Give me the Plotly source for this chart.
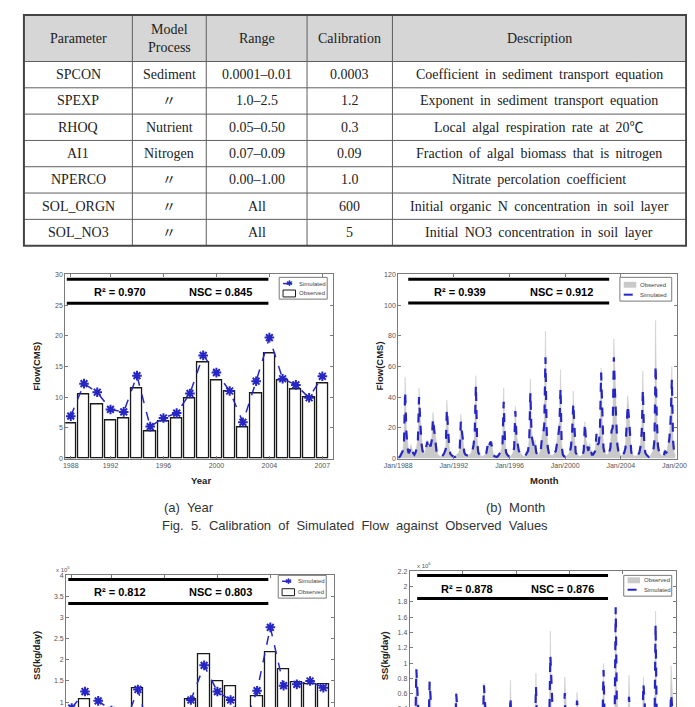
import pandas as pd
import plotly.graph_objects as go

W, H = 695, 707

# ---------------- table data ----------------
header = ["Parameter", "Model<br>Process", "Range", "Calibration", "Description"]
params = ["SPCON", "SPEXP", "RHOQ", "AI1", "NPERCO", "SOL_ORGN", "SOL_NO3"]
processes = ["Sediment", "〃", "Nutrient", "Nitrogen", "〃", "〃", "〃"]
ranges = ["0.0001–0.01", "1.0–2.5", "0.05–0.50", "0.07–0.09", "0.00–1.00", "All", "All"]
calibration = ["0.0003", "1.2", "0.3", "0.09", "1.0", "600", "5"]
descriptions = [
    "Coefficient in sediment transport equation",
    "Exponent in sediment transport equation",
    "Local algal respiration rate at 20℃",
    "Fraction of algal biomass that is nitrogen",
    "Nitrate percolation coefficient",
    "Initial organic N concentration in soil layer",
    "Initial NO3 concentration in soil layer",
]

# ---------------- annual data ----------------
years = list(range(1988, 2008))
flow_year_obs = [5.8, 10.5, 8.8, 6.2, 6.6, 11.5, 4.5, 6.1, 6.5, 9.8,
                 15.7, 12.7, 11.0, 5.0, 10.6, 17.2, 12.7, 11.3, 9.9, 12.2]
flow_year_sim = [6.9, 12.2, 10.8, 8.0, 7.6, 13.5, 5.2, 6.6, 7.4, 10.6,
                 16.8, 14.0, 11.0, 5.9, 12.6, 19.7, 13.0, 12.0, 9.9, 13.4]
# suspended sediment, x 10^5 kg/day
ss_year_obs = [0.55, 1.07, 0.60, 0.50, 0.45, 1.33, 0.30, 0.55, 0.60, 1.07,
               2.13, 1.50, 1.38, 0.45, 1.14, 2.17, 1.78, 1.47, 1.41, 1.42]
ss_year_sim = [0.86, 1.25, 1.03, 0.80, 0.47, 1.30, 0.15, 0.35, 0.57, 1.05,
               1.87, 1.25, 1.05, 0.42, 1.27, 2.77, 1.39, 1.42, 1.50, 1.34]

# ---------------- monthly data (Jan 1988 - Dec 2007) ----------------
months = pd.date_range("1988-01-01", periods=240, freq="MS").strftime("%Y-%m-%d").tolist()
flow_month_obs = [
    1.5, 1.2, 2.5, 4, 6, 12, 53, 20, 8, 4, 6, 9,
    6, 4, 3, 5, 8, 14, 46, 28, 12, 6, 4, 3,
    8, 12, 7, 10, 9, 14, 30, 22, 16, 6, 3, 2,
    1.5, 1.2, 2, 3, 5, 7, 38, 18, 8, 4, 2.5, 2,
    1.5, 1.2, 2, 3, 4, 6, 29, 18, 10, 5, 3, 2.5,
    2, 2, 3, 4, 6, 10, 18, 54, 14, 5, 3, 2,
    1.5, 1.2, 2, 3, 4, 9, 6, 11, 10, 8, 3, 2,
    1.5, 1.5, 2, 3, 4, 6, 12, 46, 15, 5, 3, 2,
    1.5, 1.5, 2.5, 4, 8, 34, 16, 10, 6, 4, 3, 2,
    1.5, 1.5, 2.5, 4, 6, 13, 52, 18, 12, 8, 12, 5,
    3, 2.5, 4, 6, 15, 18, 25, 83, 22, 8, 4, 3,
    2, 2, 3, 4, 6, 12, 16, 25, 58, 10, 3, 2,
    1.5, 1.5, 2, 3, 5, 10, 20, 44, 14, 5, 3, 2,
    1.5, 1.5, 2, 2.5, 6, 24, 12, 8, 6, 10, 7, 3,
    3, 4, 6, 17, 10, 12, 20, 59, 25, 8, 4, 3,
    2.5, 3, 5, 8, 20, 22, 78, 50, 30, 10, 5, 3,
    2, 2, 3, 5, 8, 30, 41, 30, 12, 5, 3, 2,
    1.5, 1.5, 2, 3, 5, 10, 20, 57, 15, 5, 3, 2,
    1.5, 1.5, 2.5, 4, 6, 14, 90, 30, 10, 5, 3, 2,
    2, 2, 6, 4, 6, 10, 16, 30, 60, 14, 4, 2,
]
flow_month_sim = [
    1.0, 0.8, 2.0, 3.5, 5, 10, 44, 18, 7, 3.5, 5, 8,
    5, 3.5, 2.5, 4, 7, 12, 40, 25, 10, 5, 3.5, 3,
    7, 11, 6, 9, 8, 12, 26, 19, 14, 5, 2.5, 1.5,
    1.2, 1.0, 1.5, 2.5, 4, 6, 32, 15, 7, 3, 2, 1.5,
    1, 1, 1.5, 2.5, 3.5, 5, 24, 16, 9, 4, 2.5, 2,
    1.5, 1.5, 2.5, 3.5, 5, 9, 16, 48, 12, 4, 2.5, 1.5,
    1, 1, 1.5, 2.5, 3.5, 8, 5, 10, 11, 7, 2.5, 1.5,
    1, 1, 1.5, 2.5, 3.5, 5, 10, 37, 13, 4, 2.5, 1.5,
    1, 1, 2, 3.5, 7, 31, 14, 9, 5, 3.5, 2.5, 1.5,
    1, 1, 2, 3.5, 5, 11, 43, 15, 10, 7, 10, 4,
    2.5, 2, 3.5, 5, 14, 16, 22, 66, 18, 7, 3.5, 2.5,
    1.5, 1.5, 2.5, 3.5, 5, 10, 14, 21, 46, 8, 2.5, 1.5,
    1, 1, 1.5, 2.5, 4, 8, 17, 36, 12, 4, 2.5, 1.5,
    1, 1, 1.5, 2, 5, 23, 11, 7, 5, 9, 6, 2.5,
    2.5, 3.5, 5, 16, 9, 10, 18, 56, 22, 7, 3.5, 2.5,
    2, 2.5, 4, 7, 18, 20, 66, 42, 26, 9, 4, 2.5,
    1.5, 1.5, 2.5, 4, 7, 26, 35, 26, 10, 4, 2.5, 1.5,
    1, 1, 1.5, 2.5, 4, 8, 17, 45, 13, 4, 2.5, 1.5,
    1, 1, 2, 3.5, 5, 12, 61, 26, 8, 4, 2.5, 1.5,
    1.5, 1.5, 5, 3.5, 5, 8, 14, 26, 52, 12, 3.5, 1.5,
]
# suspended sediment, x 10^6 kg/day
ss_month_obs = [
    .01, .01, .02, .03, .05, .12, .90, .25, .08, .03, .05, .08,
    .05, .03, .02, .04, .07, .15, .74, .30, .10, .05, .03, .02,
    .07, .12, .06, .10, .08, .15, .30, .22, .16, .05, .02, .02,
    .01, .01, .02, .03, .05, .08, .62, .20, .07, .03, .02, .01,
    .01, .01, .02, .03, .04, .06, .28, .18, .08, .03, .02, .01,
    .01, .01, .02, .03, .05, .10, .20, .74, .10, .03, .02, .01,
    .01, .01, .02, .02, .03, .06, .04, .08, .07, .05, .02, .01,
    .01, .01, .02, .03, .04, .06, .12, .78, .12, .03, .02, .01,
    .01, .01, .02, .03, .07, .40, .15, .08, .05, .03, .02, .01,
    .01, .01, .02, .03, .05, .13, .87, .20, .10, .06, .10, .04,
    .02, .02, .03, .05, .15, .18, .25, 1.42, .22, .07, .03, .02,
    .01, .01, .02, .03, .05, .12, .15, .25, .82, .08, .02, .01,
    .01, .01, .02, .03, .04, .10, .20, .62, .14, .04, .02, .01,
    .01, .01, .02, .02, .06, .24, .11, .07, .05, .09, .06, .02,
    .02, .03, .05, .16, .09, .11, .20, 1.00, .28, .07, .03, .02,
    .02, .02, .04, .07, .20, .22, 1.70, .55, .30, .09, .04, .02,
    .01, .01, .02, .04, .07, .30, .84, .30, .10, .04, .02, .01,
    .01, .01, .02, .03, .04, .10, .20, .82, .14, .04, .02, .01,
    .01, .01, .02, .03, .05, .14, 1.68, .32, .08, .04, .02, .01,
    .01, .01, .05, .03, .05, .10, .16, .28, .97, .10, .02, .01,
]
ss_month_sim = [
    .01, .01, .02, .03, .04, .10, .92, .22, .07, .03, .04, .07,
    .04, .03, .02, .03, .06, .13, .76, .27, .09, .04, .03, .02,
    .06, .10, .05, .09, .07, .13, .26, .19, .14, .04, .02, .02,
    .01, .01, .02, .03, .04, .07, .60, .18, .06, .03, .02, .01,
    .01, .01, .02, .02, .03, .05, .24, .16, .07, .03, .02, .01,
    .01, .01, .02, .03, .04, .09, .18, .71, .09, .03, .02, .01,
    .01, .01, .01, .02, .03, .05, .03, .07, .08, .04, .02, .01,
    .01, .01, .02, .02, .03, .05, .10, .56, .10, .03, .02, .01,
    .01, .01, .02, .03, .06, .40, .13, .07, .04, .03, .02, .01,
    .01, .01, .02, .03, .04, .11, .70, .17, .09, .05, .09, .03,
    .02, .02, .03, .04, .13, .16, .22, 1.10, .18, .06, .03, .02,
    .01, .01, .02, .03, .04, .10, .13, .22, .61, .07, .02, .01,
    .01, .01, .02, .02, .03, .08, .17, .51, .12, .03, .02, .01,
    .01, .01, .01, .02, .05, .21, .10, .06, .04, .08, .05, .02,
    .02, .03, .04, .14, .08, .09, .18, .91, .24, .06, .03, .02,
    .02, .02, .03, .06, .18, .20, 1.73, .48, .26, .08, .03, .02,
    .01, .01, .02, .03, .06, .26, .56, .26, .09, .03, .02, .01,
    .01, .01, .02, .02, .03, .08, .17, .73, .12, .03, .02, .01,
    .01, .01, .02, .03, .04, .12, 1.51, .28, .07, .03, .02, .01,
    .01, .01, .04, .03, .04, .08, .14, .24, .60, .08, .02, .01,
]

year_ticks = [1988, 1991, 1995, 1999, 2003, 2007]
year_labels = ["1988", "1992", "1996", "2000", "2004", "2007"]
month_ticks = ["1988-01-01", "1992-01-01", "1996-01-01", "2000-01-01", "2004-01-01", "2007-12-31"]
month_labels = ["Jan/1988", "Jan/1992", "Jan/1996", "Jan/2000", "Jan/2004", "Jan/2007"]

BLUE = "#2626c4"
GREY = "#c9c9c9"
SANS = "Liberation Sans"
SERIF = "Liberation Serif, Noto Sans CJK KR"


def fx(px):
    return px / W


def fy(px):
    return 1 - px / H


fig = go.Figure()

# (a) annual flow
fig.add_trace(go.Bar(x=years, y=flow_year_obs, name="Observed", width=0.85,
                     marker=dict(color="white", line=dict(color="#1a1a1a", width=1.3)),
                     xaxis="x", yaxis="y"))
fig.add_trace(go.Scatter(x=years, y=flow_year_sim, name="Simulated", mode="lines+markers",
                         line=dict(color=BLUE, width=1.5, dash="dash"),
                         marker=dict(symbol="asterisk-open", size=8, line=dict(color=BLUE, width=2)),
                         xaxis="x", yaxis="y"))

# (b) monthly flow
fig.add_trace(go.Scatter(x=months, y=flow_month_obs, name="Observed", mode="lines", fill="tozeroy",
                         fillcolor=GREY, line=dict(color=GREY, width=0.5), xaxis="x2", yaxis="y2"))
fig.add_trace(go.Scatter(x=months, y=flow_month_sim, name="Simulated", mode="lines",
                         line=dict(color=BLUE, width=2.2, dash="dash"), xaxis="x2", yaxis="y2"))

# (c) annual sediment
fig.add_trace(go.Bar(x=years, y=ss_year_obs, name="Observed", width=0.85,
                     marker=dict(color="white", line=dict(color="#1a1a1a", width=1.3)),
                     xaxis="x3", yaxis="y3"))
fig.add_trace(go.Scatter(x=years, y=ss_year_sim, name="Simulated", mode="lines+markers",
                         line=dict(color=BLUE, width=1.5, dash="dash"),
                         marker=dict(symbol="asterisk-open", size=8, line=dict(color=BLUE, width=2)),
                         xaxis="x3", yaxis="y3"))

# (d) monthly sediment
fig.add_trace(go.Scatter(x=months, y=ss_month_obs, name="Observed", mode="lines", fill="tozeroy",
                         fillcolor=GREY, line=dict(color=GREY, width=0.5), xaxis="x4", yaxis="y4"))
fig.add_trace(go.Scatter(x=months, y=ss_month_sim, name="Simulated", mode="lines",
                         line=dict(color=BLUE, width=2.2, dash="dash"), xaxis="x4", yaxis="y4"))

axis_style = dict(showline=True, linecolor="#7a7a7a", linewidth=1, mirror="ticks", ticks="inside",
                  ticklen=3, tickcolor="#7a7a7a", showgrid=False, zeroline=False,
                  ticklabeloverflow="allow",
                  tickfont=dict(family=SANS, size=7, color="#555"))

fig.update_layout(
    width=W, height=H, margin=dict(l=0, r=0, t=0, b=0), showlegend=False,
    paper_bgcolor="white", plot_bgcolor="white", bargap=0,
    xaxis=dict(axis_style, domain=[fx(45), fx(324)], anchor="y", range=[1987.58, 2007.8],
               tickvals=year_ticks, ticktext=year_labels),
    yaxis=dict(axis_style, domain=[fy(451), fy(265)], anchor="x", range=[0, 30], dtick=5),
    xaxis2=dict(axis_style, domain=[fx(392), fx(682)], anchor="y2", type="date",
                range=["1988-01-01", "2008-01-01"], tickvals=month_ticks, ticktext=month_labels),
    yaxis2=dict(axis_style, domain=[fy(451), fy(265)], anchor="x2", range=[0, 120], dtick=20),
    # lower panels run past the bottom of the page: their x labels are out of view
    xaxis3=dict(axis_style, domain=[fx(46), fx(325)], anchor="y3", range=[1987.58, 2007.8],
                tickvals=year_ticks, showticklabels=False),
    yaxis3=dict(axis_style, domain=[0, fy(569)], anchor="x3", range=[0.766, 4], dtick=0.5),
    xaxis4=dict(axis_style, domain=[fx(404), fx(681)], anchor="y4", type="date",
                range=["1988-01-01", "2008-01-01"], tickvals=month_ticks, showticklabels=False),
    yaxis4=dict(axis_style, domain=[0, fy(565)], anchor="x4", range=[0.361, 2.2], dtick=0.2),
)


def text(x, y, s, font, **kw):
    fig.add_annotation(xref="paper", yref="paper", x=fx(x), y=fy(y), text=s, showarrow=False,
                       xanchor=kw.pop("xanchor", "center"), yanchor="middle", font=font, **kw)


# ---------------- table (grid + centred cell text) ----------------
col_edges = [2, 115, 192, 297, 386, 692]
row_edges = [3, 50] + [50 + 26.57 * (i + 1) for i in range(7)]
fig.add_shape(type="rect", xref="paper", yref="paper", x0=fx(2), x1=fx(692), y0=fy(50), y1=fy(3),
              fillcolor="#d6d6d6", line=dict(width=0), layer="below")
for r in row_edges[1:-1]:
    fig.add_shape(type="line", xref="paper", yref="paper", x0=fx(2), x1=fx(692), y0=fy(r), y1=fy(r),
                  line=dict(color="#5e5e5e", width=1))
for c in col_edges[1:-1]:
    fig.add_shape(type="line", xref="paper", yref="paper", x0=fx(c), x1=fx(c), y0=fy(236), y1=fy(3),
                  line=dict(color="#5e5e5e", width=1))
fig.add_shape(type="rect", xref="paper", yref="paper", x0=fx(2), x1=fx(692), y0=fy(236), y1=fy(3),
              line=dict(color="#444", width=2))

cell_font = dict(family=SERIF, size=14, color="#222")
columns = [params, processes, ranges, calibration,
           [d.replace(" ", " \u2009") for d in descriptions]]
for j, head in enumerate(header):
    xc = (col_edges[j] + col_edges[j + 1]) / 2
    text(xc, (row_edges[0] + row_edges[1]) / 2, head, cell_font)
    for i, val in enumerate(columns[j]):
        text(xc, (row_edges[i + 1] + row_edges[i + 2]) / 2, val, cell_font)

# ---------------- statistics bands ----------------
panels = [
    ("x", "y", 0.006, 0.759, 0.973, 0.843, 0.907, 0.203, 0.58, "0.970", "0.845"),
    ("x2", "y2", 0.036, 0.758, 0.973, 0.844, 0.903, 0.223, 0.585, "0.939", "0.912"),
    ("x3", "y3", 0.008, 0.755, 0.969, 0.795, 0.879, 0.20, 0.576, "0.812", "0.803"),
    ("x4", "y4", 0.028, 0.746, 0.970, 0.808, 0.878, 0.214, 0.575, "0.878", "0.876"),
]
stat_font = dict(family=SANS, size=11, color="black")
for xa, ya, x0, x1, ytop, ybot, ytxt, xr2, xnsc, r2, nsc in panels:
    for yy in (ytop, ybot):
        fig.add_shape(type="line", xref=f"{xa} domain", yref=f"{ya} domain",
                      x0=x0, x1=x1, y0=yy, y1=yy, line=dict(color="black", width=3))
    for xx, s in ((xr2, f"<b>R² = {r2}</b>"), (xnsc, f"<b>NSC = {nsc}</b>")):
        fig.add_annotation(xref=f"{xa} domain", yref=f"{ya} domain", x=xx, y=ytxt, text=s,
                           showarrow=False, xanchor="center", yanchor="middle", font=stat_font)

# ---------------- legends ----------------
leg_font = dict(family=SANS, size=6, color="#444")


def draw_legend(x0, y0, x1, y1, entries):
    fig.add_shape(type="rect", xref="paper", yref="paper", x0=fx(x0), x1=fx(x1), y0=fy(y1), y1=fy(y0),
                  fillcolor="white", line=dict(color="#7a7a7a", width=1))
    for kind, label, yc in entries:
        sx0, sx1 = x0 + 4, x0 + 17
        if kind in ("line_star", "line"):
            fig.add_shape(type="line", xref="paper", yref="paper", x0=fx(sx0), x1=fx(sx1),
                          y0=fy(yc), y1=fy(yc),
                          line=dict(color=BLUE, width=1.5 if kind == "line_star" else 2, dash="dash"))
            if kind == "line_star":
                text((sx0 + sx1) / 2, yc, "✱", dict(family="DejaVu Sans", size=8, color=BLUE))
        elif kind == "bar":
            fig.add_shape(type="rect", xref="paper", yref="paper", x0=fx(sx0), x1=fx(sx1),
                          y0=fy(yc + 3.5), y1=fy(yc - 3.5), fillcolor="white",
                          line=dict(color="#1a1a1a", width=1))
        else:
            fig.add_shape(type="rect", xref="paper", yref="paper", x0=fx(sx0), x1=fx(sx1),
                          y0=fy(yc + 3), y1=fy(yc - 3), fillcolor=GREY, line=dict(width=0))
        text(sx1 + 2, yc, label, leg_font, xanchor="left")


draw_legend(268, 268, 318, 290, [("line_star", "Simulated", 274.3), ("bar", "Observed", 284.3)])
draw_legend(623, 268, 677, 292, [("area", "Observed", 275.5), ("line", "Simulated", 285.5)])
draw_legend(267, 569, 317, 592, [("line_star", "Simulated", 575), ("bar", "Observed", 586)])
draw_legend(627, 569, 677, 590, [("area", "Observed", 574), ("line", "Simulated", 583.5)])

# ---------------- axis titles ----------------
title_font = dict(family=SANS, size=9.5, color="#222")
for s, x, y, angle in [
    ("<b>Flow(CMS)</b>", 15, 358, -90),
    ("<b>Flow(CMS)</b>", 372, 358, -90),
    ("<b>Year</b>", 186, 473, 0),
    ("<b>Month</b>", 544, 473, 0),
    ("<b>SS(kg/day)</b>", 15, 650, -90),
    ("<b>SS(kg/day)</b>", 378, 650, -90),
]:
    text(x, y, s, title_font, textangle=angle)

# exponent labels
exp_font = dict(family=SANS, size=6, color="#555")
text(33, 563, "x 10<sup>5</sup>", exp_font, xanchor="left")
text(410, 559, "x 10<sup>6</sup>", exp_font, xanchor="left")

# ---------------- captions ----------------
cap_font = dict(family=SANS, size=13, color="#333")
text(174, 500, "(a)  Year", cap_font)
text(514, 500, "(b)  Month", cap_font)
text(347, 519, "Fig.  5.  Calibration  of  Simulated  Flow  against  Observed  Values", cap_font)

fig.write_html("out.html")
